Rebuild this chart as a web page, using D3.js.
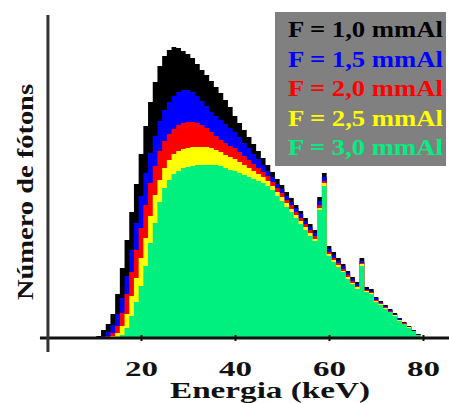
<!DOCTYPE html>
<html>
<head>
<meta charset="utf-8">
<script src="https://cdn.jsdelivr.net/npm/d3@7"></script>
<style>
  body { margin: 0; background: #fff; }
  svg { display: block; }
</style>
</head>
<body>
<svg id="chart" width="449" height="403"></svg>
<script>
// energy bins (keV), one per integer value
var energies = d3.range(10, 81);

// relative photon counts per bin
var f10 = [0,2,8,14,24,44,70,98,126,154,184,212,236,256,272,282,288,291,290,287,284,280,274,268,263,257,251,245,238,231,222,215,208,201,194,187,180,173,166,159,153,146,140,133,127,120,114,108,141,165,92,86,80,74,67,61,56,80,51,49,41,37,33,29,25,20,16,12,8,4,0];
var f15 = [0,0,2,6,13,24,40,62,88,115,142,165,185,202,217,228,236,242,246,248,248,246,242,237,232,226,222,218,214,210,206,201,195,190,184,179,173,167,161,154,149,142,136,130,124,117,111,105,137,161,89,83,77,72,65,59,54,77,49,47,40,36,32,28,24,19,15,11,7,3,0];
var f20 = [0,0,0,2,5,12,25,44,66,88,110,133,155,172,187,197,204,209,213,215,216,216,215,213,210,206,202,198,195,192,190,186,182,178,174,170,166,162,156,150,145,138,133,126,120,114,108,102,133,157,86,80,75,69,63,57,52,75,48,46,38,35,31,27,23,18,15,11,7,3,0];
var f25 = [0,0,0,0,2,5,12,24,42,60,80,100,122,143,158,170,178,184,187,189,190,191,191,191,191,190,188,186,183,181,179,176,173,170,167,164,161,157,152,146,141,135,129,123,117,111,105,99,130,155,84,78,73,67,61,55,51,74,47,45,37,34,30,26,23,18,14,11,7,3,0];
var f30 = [0,0,0,0,0,0,3,10,22,36,52,72,95,115,136,150,158,164,167,170,171,172,173,173,173,173,173,172,170,168,167,165,163,161,159,157,155,152,148,142,137,131,126,120,114,108,102,97,128,152,82,76,71,66,59,54,49,72,46,44,36,33,29,26,22,17,14,10,7,3,0];

var seriesNames = ["F = 1,0 mmAl", "F = 1,5 mmAl", "F = 2,0 mmAl", "F = 2,5 mmAl", "F = 3,0 mmAl"];
var seriesValues = [f10, f15, f20, f25, f30];
var colors = ["#000000", "#0000ff", "#ff0000", "#ffff00", "#00f080"];
var xTicks = [20, 40, 60, 80];

var FONT = "'Liberation Serif', 'Times New Roman', serif";

var svg = d3.select("#chart");

var xScale = d3.scaleLinear().domain([0, 80]).range([47, 423]),
    yScale = d3.scaleLinear().domain([0, 323]).range([338, 15]);

var area = d3.area()
    .curve(d3.curveStep)
    .x(function(d) { return xScale(d.e); })
    .y0(yScale(0))
    .y1(function(d) { return yScale(d.v); });

// back to front: thinnest filter first
seriesValues.forEach(function(vals, i) {
  var pts = energies.map(function(e, j) { return {e: e, v: vals[j]}; });
  svg.append("path")
    .attr("d", area(pts))
    .attr("fill", colors[i]);
});

// axes lines
svg.append("line")
  .attr("x1", xScale(-1.5)).attr("x2", xScale(86))
  .attr("y1", yScale(0)).attr("y2", yScale(0))
  .attr("stroke", "#111").attr("stroke-width", 3);

svg.append("line")
  .attr("x1", xScale(0.2)).attr("x2", xScale(0.2))
  .attr("y1", yScale(323)).attr("y2", yScale(-14))
  .attr("stroke", "#333").attr("stroke-width", 3);

var xAxis = d3.axisBottom(xScale).tickValues(xTicks).tickSize(6).tickSizeOuter(0);
var gx = svg.append("g")
  .attr("transform", "translate(0," + (yScale(0) - 3) + ")")
  .call(xAxis)
  .attr("font-family", null);
gx.select(".domain").remove();
gx.selectAll("line").attr("stroke", "#111").attr("stroke-width", 2);
gx.selectAll("text")
  .attr("y", 41).attr("dy", null)
  .attr("fill", "#111")
  .style("font-family", FONT)
  .style("font-weight", "bold")
  .style("font-size", "22px")
  .attr("textLength", 33).attr("lengthAdjust", "spacingAndGlyphs");

svg.append("text")
  .attr("x", 270).attr("y", 398)
  .attr("text-anchor", "middle")
  .attr("fill", "#111")
  .style("font-family", FONT)
  .style("font-weight", "bold")
  .style("font-size", "24px")
  .attr("textLength", 200).attr("lengthAdjust", "spacingAndGlyphs")
  .text("Energia (keV)");

svg.append("text")
  .attr("transform", "translate(33,192) rotate(-90)")
  .attr("text-anchor", "middle")
  .attr("fill", "#111")
  .style("font-family", FONT)
  .style("font-weight", "bold")
  .style("font-size", "23px")
  .attr("textLength", 216).attr("lengthAdjust", "spacingAndGlyphs")
  .text("Número de fótons");

// legend
var legend = svg.append("g");
legend.append("rect")
  .attr("x", 275).attr("y", 12)
  .attr("width", 171).attr("height", 154)
  .attr("fill", "#808080");

legend.selectAll("text.leg")
  .data(seriesNames)
  .enter().append("text")
  .attr("class", "leg")
  .attr("x", 288)
  .attr("y", function(d, i) { return 37 + i * 29.5; })
  .attr("fill", function(d, i) { return colors[i]; })
  .style("font-family", FONT)
  .style("font-weight", "bold")
  .style("font-size", "24px")
  .attr("textLength", 155).attr("lengthAdjust", "spacingAndGlyphs")
  .text(function(d) { return d; });
</script>
</body>
</html>
